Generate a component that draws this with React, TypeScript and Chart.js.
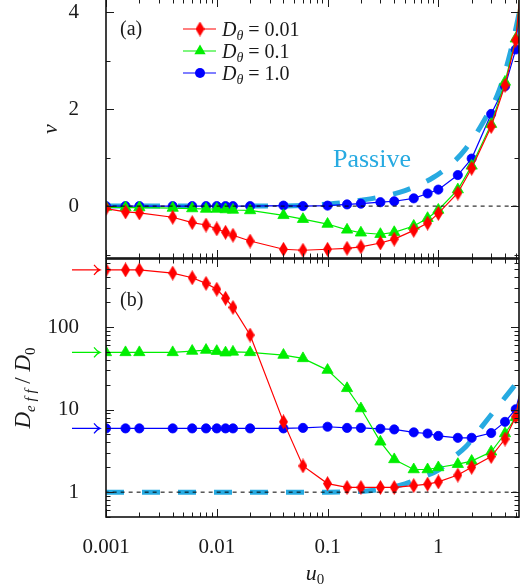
import React, { useEffect, useRef } from 'react';
import { Chart, registerables } from 'chart.js';
Chart.register(...registerables);

// ---------------- data ----------------
const u0 = [0.001, 0.0015, 0.002, 0.004, 0.006, 0.008, 0.01, 0.012, 0.014, 0.02, 0.04, 0.06, 0.1, 0.15, 0.2, 0.3, 0.4, 0.6, 0.8, 1, 1.5, 2, 3, 4, 5, 6];

// panel (a): drift velocity v
const vRed = [-0.05, -0.12, -0.14, -0.23, -0.34, -0.39, -0.47, -0.54, -0.6, -0.72, -0.89, -0.91, -0.89, -0.87, -0.84, -0.76, -0.68, -0.5, -0.35, -0.15, 0.27, 0.78, 1.64, 2.49, 3.42, 5.4];
const vGreen = [-0.02, -0.03, -0.03, -0.04, -0.05, -0.06, -0.06, -0.07, -0.08, -0.09, -0.19, -0.27, -0.37, -0.49, -0.55, -0.58, -0.54, -0.41, -0.25, -0.08, 0.34, 0.83, 1.69, 2.56, 3.45, 5.4];
const vBlue = [0, 0, 0, 0, 0, 0, 0, 0, 0, 0, 0.01, 0.0, 0.01, 0.035, 0.05, 0.08, 0.1, 0.16, 0.26, 0.34, 0.64, 0.98, 1.9, 2.47, 3.23, 5.5];

// panel (b): Deff / D0
const dRed = [492, 492, 492, 450, 395, 338, 287, 223, 173, 80, 7.1, 2.08, 1.27, 1.14, 1.14, 1.14, 1.14, 1.2, 1.25, 1.33, 1.61, 2.0, 2.7, 4.4, 8.2, 32];
const dGreen = [49.3, 49.3, 49.3, 49.3, 51.2, 52.6, 51, 48.9, 50, 49.3, 45.8, 41.7, 30.1, 18.1, 10.3, 4.07, 2.49, 1.88, 1.88, 1.99, 2.18, 2.38, 3.08, 5.13, 8.04, 32];
const dBlue = [5.92, 5.92, 5.92, 5.92, 5.92, 5.92, 5.92, 5.92, 5.92, 5.92, 5.92, 6.0, 6.2, 6.0, 6.0, 5.85, 5.75, 5.3, 5.13, 4.8, 4.55, 4.55, 5.2, 7.1, 10.1, 26];

// passive particle
const passiveU = [0.001, 0.03, 0.06, 0.1, 0.15, 0.2, 0.3, 0.5, 0.9, 1.3, 1.75, 2.6, 3.55, 4.47, 5.2, 5.6];
const passiveV = [0, 0, 0.01, 0.04, 0.08, 0.12, 0.19, 0.32, 0.59, 0.86, 1.17, 1.77, 2.39, 3.17, 3.83, 4.2];
const passiveDU = [0.001, 0.1, 0.2, 0.3, 0.5, 0.7, 1, 1.4, 1.77, 2.2, 2.8, 3.5, 4.6, 5.6];
const passiveD = [1, 1.0, 1.02, 1.08, 1.26, 1.5, 1.85, 2.72, 3.54, 5.1, 7.7, 11.2, 17.7, 25];

const legendLabels = ['0.01', '0.1', '1.0'];
const xTickValues = [0.001, 0.01, 0.1, 1];
const xTickLabels = ['0.001', '0.01', '0.1', '1'];
const vTickValues = [-1, 0, 1, 2, 3, 4];
const vLabeled = [0, 2, 4];
const dTickValues = [1, 10, 100];
const dTickLabels = ['1', '10', '100'];

// ---------------- style ----------------
const SERIF = '"Liberation Serif", "Times New Roman", serif';
const RED = '#ff0000';
const GREEN = '#00ee00';
const BLUE = '#0000ff';
const PASSIVE = '#27aae1';
const INK = '#1a1a1a';
const X_MIN = 0.001;
const X_MAX = 5.35;

function makeDiamond(w: number, h: number, color: string) {
  const c = document.createElement('canvas');
  c.width = w;
  c.height = h;
  const g = c.getContext('2d')!;
  g.fillStyle = color;
  g.beginPath();
  g.moveTo(w / 2, 0);
  g.lineTo(w, h / 2);
  g.lineTo(w / 2, h);
  g.lineTo(0, h / 2);
  g.closePath();
  g.fill();
  return c;
}

type Part = { t: string; font: string; dy?: number };
function drawRich(ctx: CanvasRenderingContext2D, x: number, y: number, parts: Part[], align: 'left' | 'center' = 'left') {
  let w = 0;
  for (const p of parts) {
    ctx.font = p.font;
    w += ctx.measureText(p.t).width;
  }
  let cx = align === 'center' ? x - w / 2 : x;
  ctx.textAlign = 'left';
  ctx.textBaseline = 'alphabetic';
  for (const p of parts) {
    ctx.font = p.font;
    ctx.fillText(p.t, cx, y + (p.dy || 0));
    cx += ctx.measureText(p.t).width;
  }
}

function logMinor(min: number, max: number) {
  const out: number[] = [];
  for (let d = Math.floor(Math.log10(min)); d <= Math.ceil(Math.log10(max)); d++) {
    for (let k = 2; k <= 9; k++) {
      const v = k * Math.pow(10, d);
      if (v >= min && v <= max) out.push(v);
    }
  }
  return out;
}

function frameTicksPlugin(yMajor: number[], yMinor: number[]) {
  return {
    id: 'frameTicks',
    afterDraw(chart: any) {
      const { ctx, chartArea } = chart;
      const { left, right, top, bottom } = chartArea;
      const xs = chart.scales.x;
      const ys = chart.scales.y;
      const xMinor = logMinor(X_MIN, X_MAX);
      ctx.save();
      ctx.strokeStyle = INK;
      ctx.lineWidth = 1;
      const vt = (v: number, len: number) => {
        const p = Math.round(xs.getPixelForValue(v)) + 0.5;
        ctx.beginPath();
        ctx.moveTo(p, bottom);
        ctx.lineTo(p, bottom - len);
        ctx.moveTo(p, top);
        ctx.lineTo(p, top + len);
        ctx.stroke();
      };
      const ht = (v: number, len: number) => {
        const p = Math.round(ys.getPixelForValue(v)) + 0.5;
        ctx.beginPath();
        ctx.moveTo(left, p);
        ctx.lineTo(left + len, p);
        ctx.moveTo(right, p);
        ctx.lineTo(right - len, p);
        ctx.stroke();
      };
      xTickValues.forEach((v) => vt(v, 8));
      xMinor.forEach((v) => vt(v, 4.5));
      yMajor.forEach((v) => ht(v, 8));
      yMinor.forEach((v) => ht(v, 4.5));
      ctx.lineWidth = 1.6;
      ctx.strokeStyle = '#111';
      ctx.strokeRect(left, top, right - left, bottom - top);
      ctx.restore();
    },
  };
}

function drawTriangle(ctx: CanvasRenderingContext2D, x: number, y: number, r: number) {
  ctx.beginPath();
  let rad = 0;
  ctx.moveTo(x + Math.sin(rad) * r, y - Math.cos(rad) * r);
  rad += (2 * Math.PI) / 3;
  ctx.lineTo(x + Math.sin(rad) * r, y - Math.cos(rad) * r);
  rad += (2 * Math.PI) / 3;
  ctx.lineTo(x + Math.sin(rad) * r, y - Math.cos(rad) * r);
  ctx.closePath();
  ctx.fill();
}

export default function App() {
  const refA = useRef<HTMLCanvasElement>(null);
  const refB = useRef<HTMLCanvasElement>(null);

  useEffect(() => {
    const diamond = makeDiamond(9, 15, RED);

    const series = (ys: number[], color: string, style: any, radius: number, order: number) => ({
      data: u0.map((x, i) => ({ x, y: ys[i] })),
      borderColor: color,
      backgroundColor: color,
      borderWidth: 1.2,
      pointStyle: style,
      pointRadius: radius,
      pointBorderWidth: 0.8,
      pointBorderColor: color,
      pointBackgroundColor: color,
      tension: 0,
      order,
    });

    const baseline = (y: number) => ({
      data: [
        { x: 0.0005, y },
        { x: 20, y },
      ],
      borderColor: '#000',
      borderWidth: 1,
      borderDash: [4, 4],
      pointRadius: 0,
      order: 0,
    });

    const passive = (xs: number[], ys: number[]) => ({
      data: xs.map((x, i) => ({ x, y: ys[i] })),
      borderColor: PASSIVE,
      borderWidth: 5,
      borderDash: [18, 18],
      borderCapStyle: 'butt',
      pointRadius: 0,
      cubicInterpolationMode: 'monotone',
      order: 5,
    });

    const xScale = (showLabels: boolean) => ({
      type: 'logarithmic',
      min: X_MIN,
      max: X_MAX,
      bounds: 'data',
      display: showLabels,
      grid: { display: false },
      border: { display: false },
      afterBuildTicks: (s: any) => {
        s.ticks = xTickValues.map((v) => ({ value: v }));
      },
      ticks: {
        autoSkip: false,
        maxRotation: 0,
        padding: 10,
        color: INK,
        font: { family: SERIF, size: 21 },
        callback: (v: any) => {
          const i = xTickValues.findIndex((t) => Math.abs(t - v) / t < 1e-6);
          return i >= 0 ? xTickLabels[i] : '';
        },
      },
      afterFit: (s: any) => {
        s.height = showLabels ? 71 : 0;
        s.paddingLeft = 0;
        s.paddingRight = 0;
        s.paddingTop = 0;
        s.paddingBottom = 0;
      },
    });

    const yFit = (s: any) => {
      s.width = 106;
      s.paddingTop = 0;
      s.paddingBottom = 0;
      s.paddingLeft = 0;
      s.paddingRight = 0;
    };

    const overlayA = {
      id: 'overlayA',
      afterDraw(chart: any) {
        const ctx: CanvasRenderingContext2D = chart.ctx;
        ctx.save();
        ctx.fillStyle = INK;
        ctx.textAlign = 'left';
        ctx.textBaseline = 'alphabetic';
        ctx.font = `20px ${SERIF}`;
        ctx.fillText('(a)', 120, 45);
        const colors = [RED, GREEN, BLUE];
        colors.forEach((c, i) => {
          const cy = 39 + i * 22;
          ctx.strokeStyle = c;
          ctx.lineWidth = 1.2;
          ctx.beginPath();
          ctx.moveTo(183, cy);
          ctx.lineTo(216, cy);
          ctx.stroke();
          ctx.fillStyle = c;
          if (i === 0) ctx.drawImage(diamond, 200 - diamond.width / 2, cy - diamond.height / 2);
          if (i === 1) drawTriangle(ctx, 200, cy, 6.5);
          if (i === 2) {
            ctx.beginPath();
            ctx.arc(200, cy, 5, 0, Math.PI * 2);
            ctx.fill();
          }
          ctx.fillStyle = INK;
          drawRich(ctx, 222, cy + 7, [
            { t: 'D', font: `italic 20px ${SERIF}` },
            { t: 'θ', font: `italic 14px ${SERIF}`, dy: 4 },
            { t: ' = ' + legendLabels[i], font: `20px ${SERIF}` },
          ]);
        });
        ctx.fillStyle = PASSIVE;
        ctx.font = `26px ${SERIF}`;
        ctx.fillText('Passive', 333, 177);
        ctx.fillStyle = INK;
        ctx.translate(57, 139);
        ctx.rotate(-Math.PI / 2);
        ctx.font = `italic 22px ${SERIF}`;
        ctx.textAlign = 'center';
        ctx.fillText('v', 0, 0);
        ctx.restore();
      },
    };

    const overlayB = {
      id: 'overlayB',
      afterDraw(chart: any) {
        const ctx: CanvasRenderingContext2D = chart.ctx;
        const ys = chart.scales.y;
        ctx.save();
        ctx.fillStyle = INK;
        ctx.font = `20px ${SERIF}`;
        ctx.textAlign = 'left';
        ctx.textBaseline = 'alphabetic';
        ctx.fillText('(b)', 120, 56);
        const arrows = [
          { c: RED, v: dRed[0] },
          { c: GREEN, v: dGreen[0] },
          { c: BLUE, v: dBlue[0] },
        ];
        arrows.forEach((a) => {
          const y = ys.getPixelForValue(a.v);
          ctx.strokeStyle = a.c;
          ctx.lineWidth = 1.2;
          ctx.beginPath();
          ctx.moveTo(72, y);
          ctx.lineTo(100, y);
          ctx.moveTo(94, y - 5);
          ctx.quadraticCurveTo(97, y - 1, 100, y);
          ctx.quadraticCurveTo(97, y + 1, 94, y + 5);
          ctx.stroke();
        });
        ctx.fillStyle = INK;
        drawRich(ctx, 315, 330, [
          { t: 'u', font: `italic 22px ${SERIF}` },
          { t: '0', font: `15px ${SERIF}`, dy: 4 },
        ], 'center');
        ctx.translate(30, 138);
        ctx.rotate(-Math.PI / 2);
        drawRich(ctx, 0, 0, [
          { t: 'D', font: `italic 23px ${SERIF}` },
          { t: 'e f f', font: `italic 15px ${SERIF}`, dy: 5 },
          { t: ' / ', font: `23px ${SERIF}` },
          { t: 'D', font: `italic 23px ${SERIF}` },
          { t: '0', font: `15px ${SERIF}`, dy: 5 },
        ], 'center');
        ctx.restore();
      },
    };

    const common = {
      responsive: false,
      maintainAspectRatio: false,
      animation: false as const,
      devicePixelRatio: 1,
      events: [] as any[],
      plugins: { legend: { display: false }, tooltip: { enabled: false } },
    };

    const chartA = new Chart(refA.current!, {
      type: 'line',
      data: {
        datasets: [
          baseline(0),
          series(vRed, RED, diamond, 6, 1),
          series(vGreen, GREEN, 'triangle', 6.5, 2),
          series(vBlue, BLUE, 'circle', 4.6, 3),
          passive(passiveU, passiveV),
        ] as any,
      },
      options: {
        ...common,
        layout: { autoPadding: false, padding: { left: 0, right: 1, top: 9, bottom: 2 } },
        scales: {
          x: { ...xScale(false) },
          y: {
            type: 'linear',
            min: -1.07,
            max: 4.27,
            bounds: 'data',
            grid: { display: false },
            border: { display: false },
            afterBuildTicks: (s: any) => {
              s.ticks = vTickValues.map((v) => ({ value: v }));
            },
            ticks: {
              padding: 19,
              color: INK,
              autoSkip: false,
              font: { family: SERIF, size: 21 },
              callback: (v: any) => (vLabeled.includes(v) ? String(v) : ''),
            },
            afterFit: yFit,
          },
        } as any,
      },
      plugins: [frameTicksPlugin(vLabeled, vTickValues.filter((v) => !vLabeled.includes(v))), overlayA],
    } as any);

    const chartB = new Chart(refB.current!, {
      type: 'line',
      data: {
        datasets: [
          baseline(1),
          series(dRed, RED, diamond, 6, 1),
          series(dGreen, GREEN, 'triangle', 6.5, 2),
          series(dBlue, BLUE, 'circle', 4.6, 3),
          passive(passiveDU, passiveD),
        ] as any,
      },
      options: {
        ...common,
        layout: { autoPadding: false, padding: { left: 0, right: 1, top: 9, bottom: 0 } },
        scales: {
          x: xScale(true),
          y: {
            type: 'logarithmic',
            min: 0.5,
            max: 667,
            bounds: 'data',
            grid: { display: false },
            border: { display: false },
            afterBuildTicks: (s: any) => {
              s.ticks = dTickValues.map((v) => ({ value: v }));
            },
            ticks: {
              padding: 19,
              color: INK,
              autoSkip: false,
              font: { family: SERIF, size: 21 },
              callback: (v: any) => {
                const i = dTickValues.findIndex((t) => Math.abs(t - v) / t < 1e-6);
                return i >= 0 ? dTickLabels[i] : '';
              },
            },
            afterFit: yFit,
          },
        } as any,
      },
      plugins: [frameTicksPlugin(dTickValues, logMinor(0.5, 667)), overlayB],
    } as any);

    return () => {
      chartA.destroy();
      chartB.destroy();
    };
  }, []);

  return (
    <div style={{ position: 'fixed', left: 0, top: 0, width: 520, height: 588, overflow: 'hidden', background: '#fff' }}>
      <canvas ref={refA} width={520} height={270} style={{ position: 'absolute', left: 0, top: -10, width: 520, height: 270 }} />
      <canvas ref={refB} width={520} height={338} style={{ position: 'absolute', left: 0, top: 250, width: 520, height: 338 }} />
    </div>
  );
}
